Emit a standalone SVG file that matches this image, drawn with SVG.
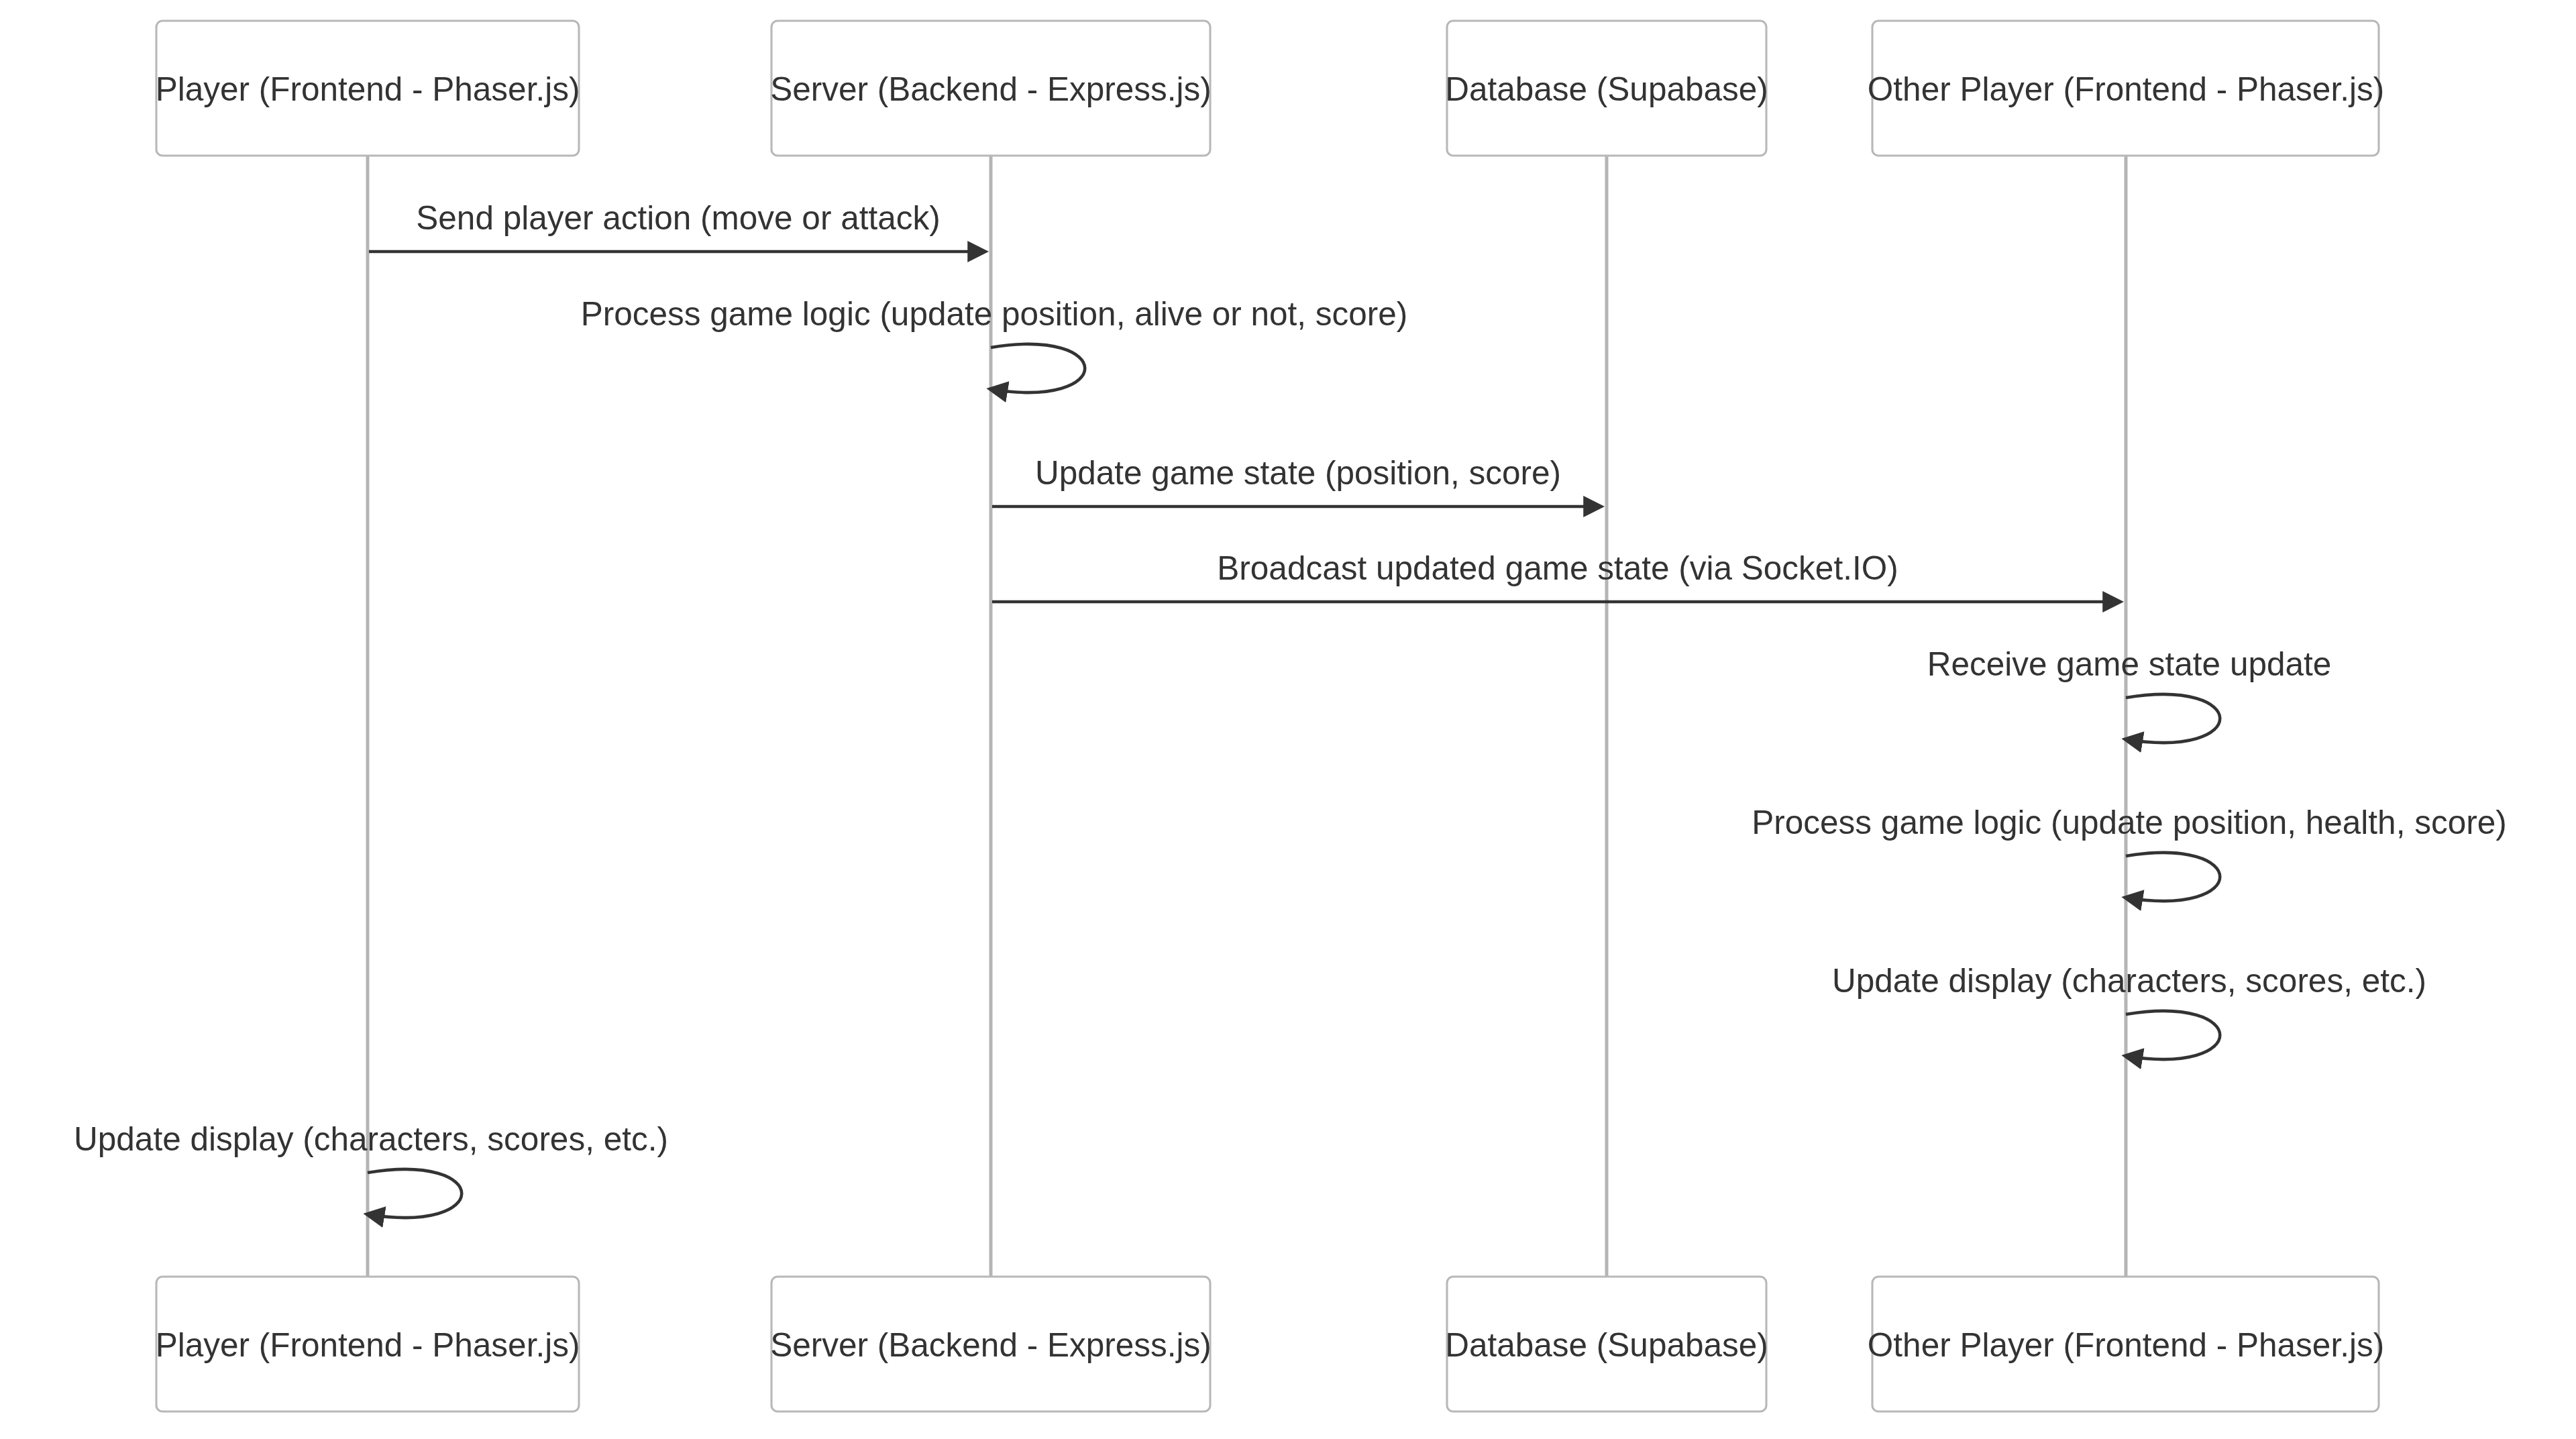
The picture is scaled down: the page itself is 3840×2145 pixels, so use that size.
<svg xmlns="http://www.w3.org/2000/svg" width="3840" height="2145" viewBox="0 0 3840 2145">
<style>
.actor{fill:#ffffff;stroke:#b8b8b8;stroke-width:3.1;}
.actor-text{font-family:"Liberation Sans",Arial,sans-serif;font-size:49.5px;fill:#333333;text-anchor:middle;}
.lifeline{stroke:#b5b5b5;stroke-width:5;}
.msg{stroke:#333333;stroke-width:4.6;fill:none;}
.msg-text{font-family:"Liberation Sans",Arial,sans-serif;font-size:49.5px;fill:#333333;text-anchor:middle;}
</style>
<defs>
<marker id="arrowhead" viewBox="0 0 10 10" refX="7.9" refY="5" markerUnits="userSpaceOnUse" markerWidth="32" markerHeight="32" orient="auto">
<path d="M 0 0 L 10 5 L 0 10 z" fill="#333333"/>
</marker>
</defs>
<rect x="0" y="0" width="3840" height="2145" fill="#ffffff"/>
<g id="lifelines">
<line class="lifeline" x1="548" y1="232" x2="548" y2="1903"/>
<line class="lifeline" x1="1477" y1="232" x2="1477" y2="1903"/>
<line class="lifeline" x1="2395" y1="232" x2="2395" y2="1903"/>
<line class="lifeline" x1="3169" y1="232" x2="3169" y2="1903"/>
</g>
<g id="actor-player-top">
<rect class="actor" x="233" y="31" width="630" height="201" rx="9.3" ry="9.3"/>
<text class="actor-text" x="548" y="150">Player (Frontend - Phaser.js)</text>
</g>
<g id="actor-server-top">
<rect class="actor" x="1150" y="31" width="654" height="201" rx="9.3" ry="9.3"/>
<text class="actor-text" x="1477" y="150">Server (Backend - Express.js)</text>
</g>
<g id="actor-database-top">
<rect class="actor" x="2157" y="31" width="476" height="201" rx="9.3" ry="9.3"/>
<text class="actor-text" x="2395" y="150">Database (Supabase)</text>
</g>
<g id="actor-other-top">
<rect class="actor" x="2791" y="31" width="755" height="201" rx="9.3" ry="9.3"/>
<text class="actor-text" x="3169" y="150">Other Player (Frontend - Phaser.js)</text>
</g>
<g id="actor-player-bottom">
<rect class="actor" x="233" y="1903" width="630" height="201" rx="9.3" ry="9.3"/>
<text class="actor-text" x="548" y="2022">Player (Frontend - Phaser.js)</text>
</g>
<g id="actor-server-bottom">
<rect class="actor" x="1150" y="1903" width="654" height="201" rx="9.3" ry="9.3"/>
<text class="actor-text" x="1477" y="2022">Server (Backend - Express.js)</text>
</g>
<g id="actor-database-bottom">
<rect class="actor" x="2157" y="1903" width="476" height="201" rx="9.3" ry="9.3"/>
<text class="actor-text" x="2395" y="2022">Database (Supabase)</text>
</g>
<g id="actor-other-bottom">
<rect class="actor" x="2791" y="1903" width="755" height="201" rx="9.3" ry="9.3"/>
<text class="actor-text" x="3169" y="2022">Other Player (Frontend - Phaser.js)</text>
</g>
<g id="connectors">
<text class="msg-text" x="1011" y="342">Send player action (move or attack)</text>
<line class="msg" x1="550" y1="375" x2="1467.5" y2="375" marker-end="url(#arrowhead)"/>
<text class="msg-text" x="1482" y="485">Process game logic (update position, alive or not, score)</text>
<path class="msg" d="M 1477 518 C 1664 487 1664 611 1477 580" marker-end="url(#arrowhead)"/>
<text class="msg-text" x="1935" y="722">Update game state (position, score)</text>
<line class="msg" x1="1479" y1="755" x2="2385.5" y2="755" marker-end="url(#arrowhead)"/>
<text class="msg-text" x="2322" y="864">Broadcast updated game state (via Socket.IO)</text>
<line class="msg" x1="1479" y1="897" x2="3159.5" y2="897" marker-end="url(#arrowhead)"/>
<text class="msg-text" x="3174" y="1007">Receive game state update</text>
<path class="msg" d="M 3169 1040 C 3356 1009 3356 1133 3169 1102" marker-end="url(#arrowhead)"/>
<text class="msg-text" x="3174" y="1243">Process game logic (update position, health, score)</text>
<path class="msg" d="M 3169 1276 C 3356 1245 3356 1369 3169 1338" marker-end="url(#arrowhead)"/>
<text class="msg-text" x="3174" y="1479">Update display (characters, scores, etc.)</text>
<path class="msg" d="M 3169 1512 C 3356 1481 3356 1605 3169 1574" marker-end="url(#arrowhead)"/>
<text class="msg-text" x="553" y="1715">Update display (characters, scores, etc.)</text>
<path class="msg" d="M 548 1748 C 735 1717 735 1841 548 1810" marker-end="url(#arrowhead)"/>
</g>
</svg>
